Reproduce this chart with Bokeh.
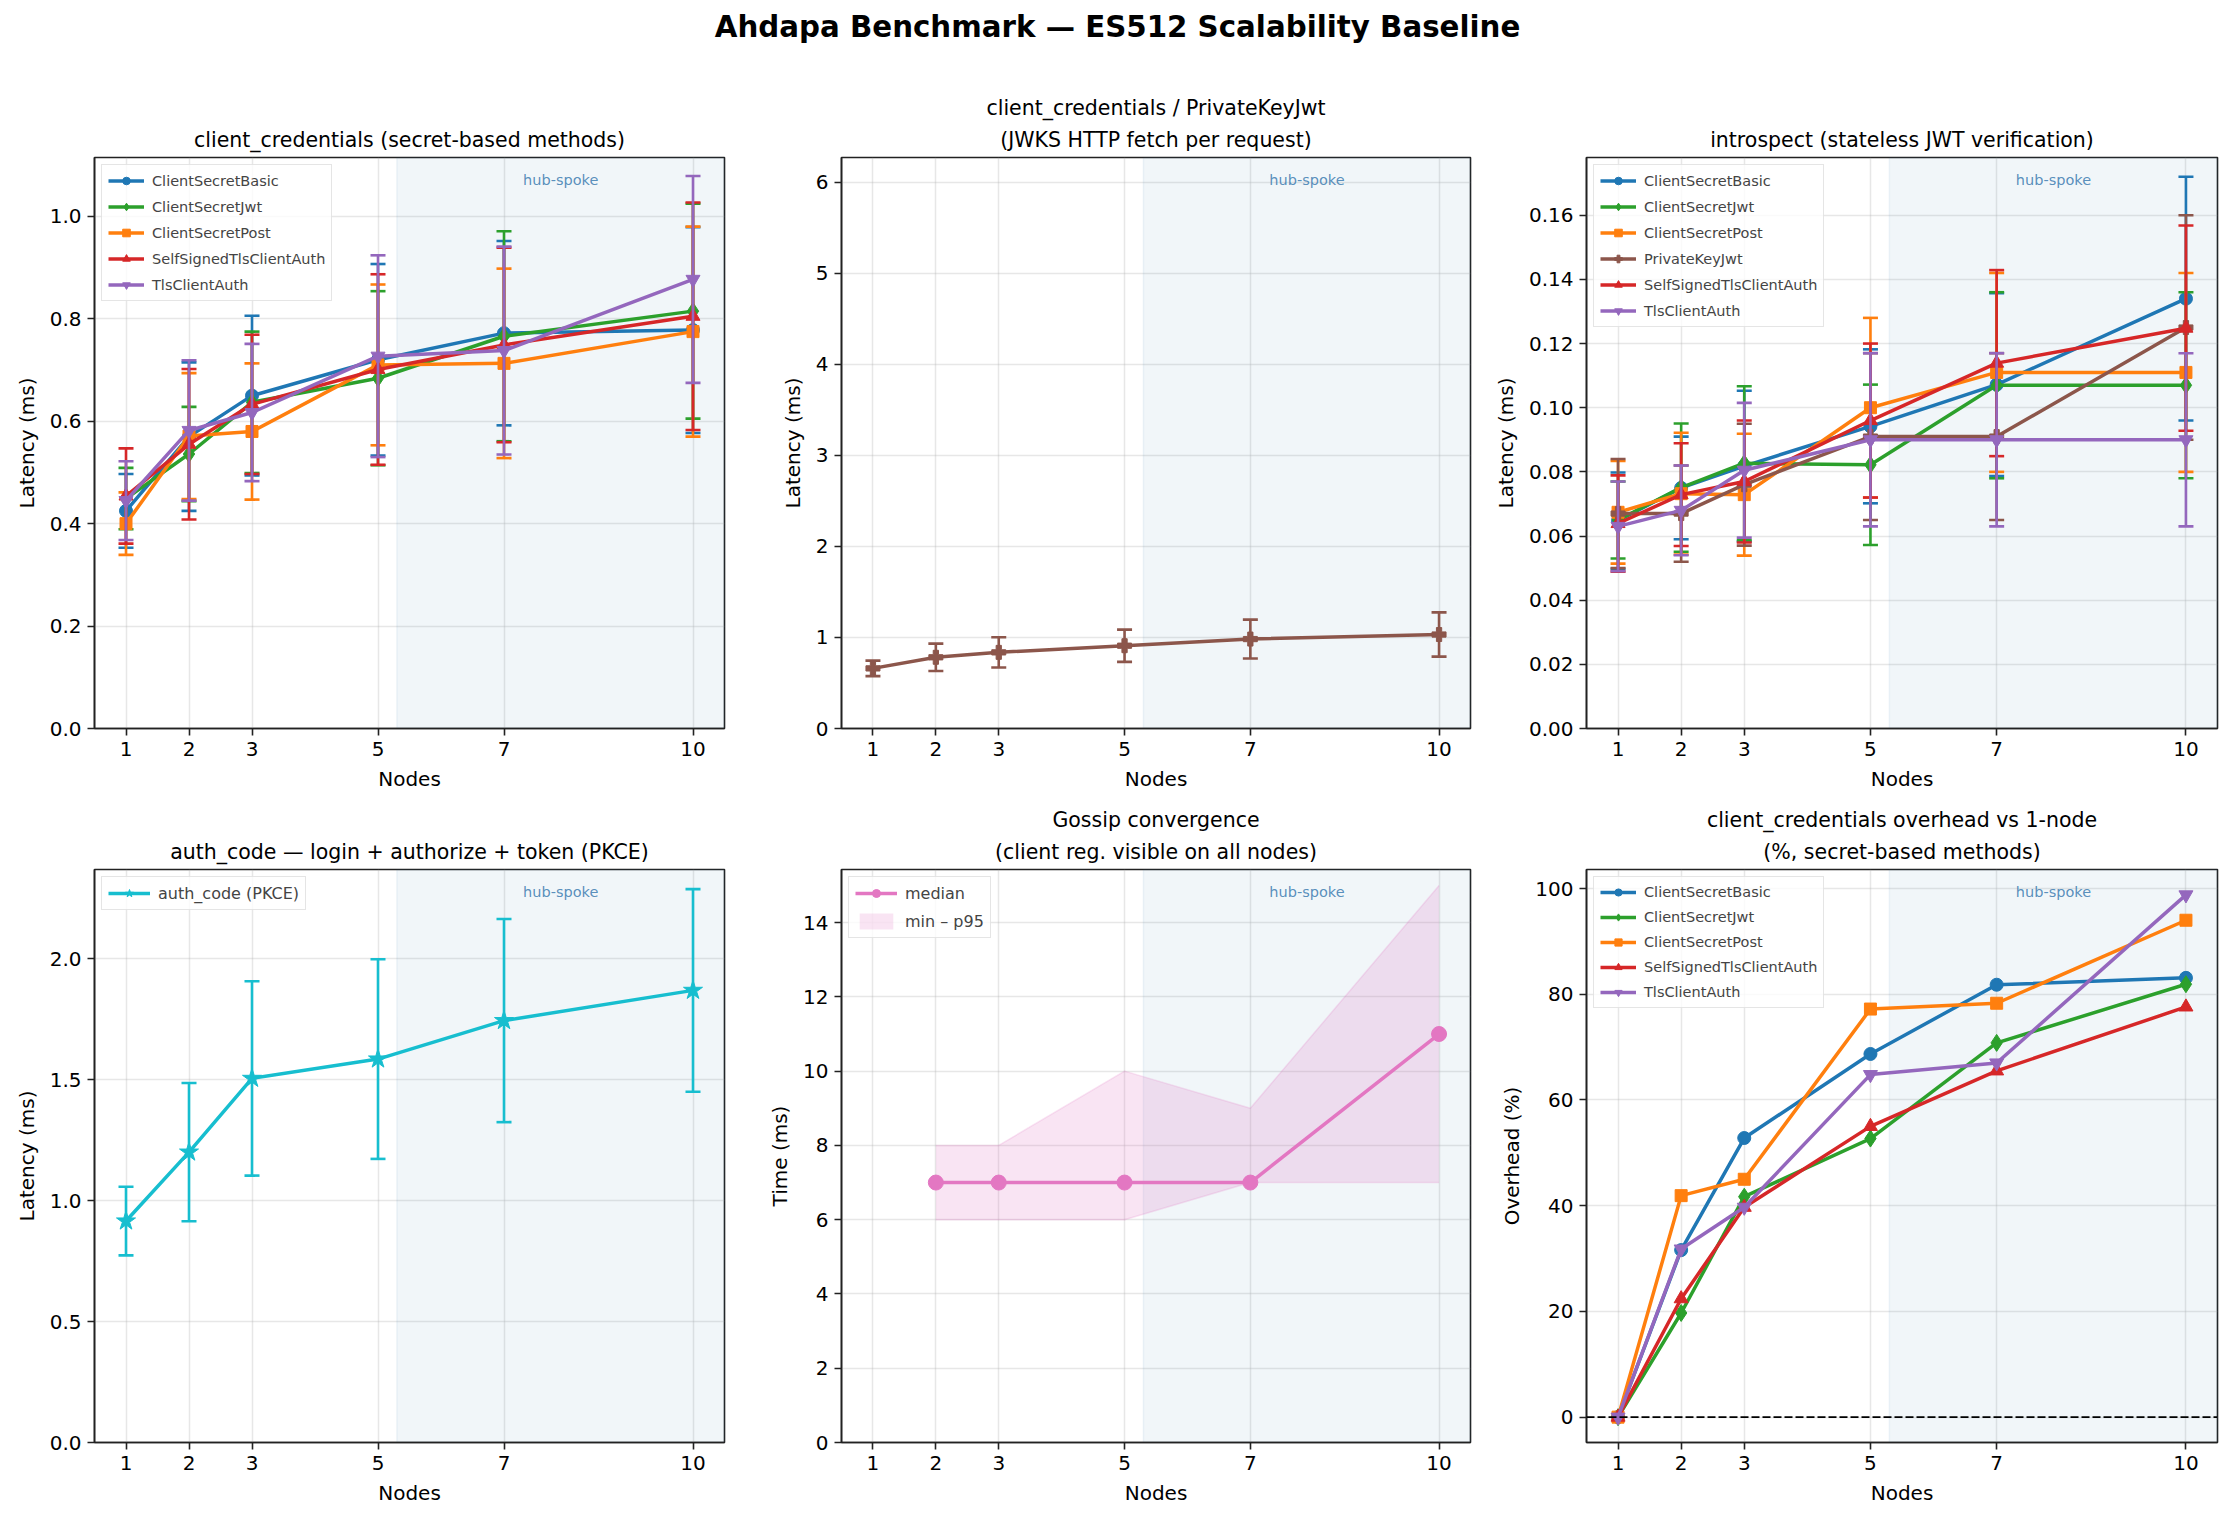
from bokeh.plotting import figure
from bokeh.models import (Range1d, FixedTicker, PrintfTickFormatter, ColumnDataSource,
                          BoxAnnotation, Label, Legend, LegendItem, Span, Title)
from bokeh.layouts import column, row
from bokeh.embed import file_html
from bokeh.resources import INLINE

# ---------------- data ----------------
NODES = [1, 2, 3, 5, 7, 10]
SECRET_METHODS = ["ClientSecretBasic", "ClientSecretJwt", "ClientSecretPost",
                  "SelfSignedTlsClientAuth", "TlsClientAuth"]
INTROSPECT_METHODS = ["ClientSecretBasic", "ClientSecretJwt", "ClientSecretPost",
                      "PrivateKeyJwt", "SelfSignedTlsClientAuth", "TlsClientAuth"]

# client_credentials latency (ms): mean and std
cc_basic = [0.425, 0.570, 0.650, 0.720, 0.772, 0.778]
cc_basic_err = [0.072, 0.145, 0.156, 0.187, 0.180, 0.201]
cc_jwt = [0.449, 0.536, 0.637, 0.684, 0.766, 0.815]
cc_jwt_err = [0.060, 0.092, 0.138, 0.170, 0.205, 0.210]
cc_post = [0.400, 0.571, 0.580, 0.710, 0.713, 0.775]
cc_post_err = [0.061, 0.123, 0.133, 0.157, 0.185, 0.205]
cc_selfsigned = [0.454, 0.555, 0.633, 0.701, 0.749, 0.805]
cc_selfsigned_err = [0.093, 0.147, 0.136, 0.186, 0.190, 0.222]
cc_tls = [0.445, 0.582, 0.617, 0.727, 0.738, 0.877]
cc_tls_err = [0.077, 0.137, 0.134, 0.197, 0.203, 0.202]

# client_credentials / PrivateKeyJwt
pkj = [0.660, 0.782, 0.836, 0.909, 0.982, 1.032]
pkj_err = [0.085, 0.150, 0.166, 0.177, 0.214, 0.243]

# introspect latency (ms)
in_basic = [0.0648, 0.0750, 0.0818, 0.0942, 0.1072, 0.1340]
in_basic_err = [0.0150, 0.0160, 0.0235, 0.0240, 0.0285, 0.0380]
in_jwt = [0.0650, 0.0751, 0.0827, 0.0822, 0.1070, 0.1070]
in_jwt_err = [0.0120, 0.0200, 0.0240, 0.0250, 0.0290, 0.0290]
in_post = [0.0674, 0.0732, 0.0729, 0.1000, 0.1110, 0.1110]
in_post_err = [0.0160, 0.0190, 0.0190, 0.0280, 0.0310, 0.0310]
in_pkj = [0.0670, 0.0670, 0.0760, 0.0910, 0.0910, 0.1250]
in_pkj_err = [0.0170, 0.0150, 0.0190, 0.0260, 0.0260, 0.0350]
in_selfsigned = [0.0639, 0.0729, 0.0770, 0.0960, 0.1139, 0.1248]
in_selfsigned_err = [0.0150, 0.0160, 0.0190, 0.0240, 0.0290, 0.0320]
in_tls = [0.0630, 0.0680, 0.0805, 0.0900, 0.0900, 0.0900]
in_tls_err = [0.0140, 0.0140, 0.0210, 0.0270, 0.0270, 0.0270]

# auth_code (PKCE)
ac = [0.916, 1.201, 1.506, 1.586, 1.745, 1.870]
ac_err = [0.142, 0.286, 0.402, 0.413, 0.420, 0.419]

# gossip convergence (ms)
GOSSIP_NODES = [2, 3, 5, 7, 10]
gossip_median = [7, 7, 7, 7, 11]
gossip_min = [6, 6, 6, 7, 7]
gossip_p95 = [8, 8, 10, 9, 15]

# overhead vs 1-node (%)
ov_basic = [0.0, 31.6, 52.8, 68.7, 81.8, 83.1]
ov_jwt = [0.0, 19.7, 41.7, 52.7, 70.8, 81.9]
ov_post = [0.0, 41.9, 45.0, 77.2, 78.3, 94.0]
ov_selfsigned = [0.0, 22.4, 39.7, 55.0, 65.5, 77.6]
ov_tls = [0.0, 31.8, 39.7, 64.8, 67.0, 98.8]

# axis ticks
Y1_TICKS = [0.0, 0.2, 0.4, 0.6, 0.8, 1.0]
Y2_TICKS = [0, 1, 2, 3, 4, 5, 6]
Y3_TICKS = [0.0, 0.02, 0.04, 0.06, 0.08, 0.10, 0.12, 0.14, 0.16]
Y4_TICKS = [0.0, 0.5, 1.0, 1.5, 2.0]
Y5_TICKS = [0, 2, 4, 6, 8, 10, 12, 14]
Y6_TICKS = [0, 20, 40, 60, 80, 100]

HUB_SPOKE_START = 5.3
X_LO, X_HI = 0.5, 10.5

# ---------------- styles ----------------
FONT = "DejaVu Sans"
STYLE = {
    "ClientSecretBasic": ("#1f77b4", "circle", 13),
    "ClientSecretJwt": ("#2ca02c", "diamond", 17),
    "ClientSecretPost": ("#ff7f0e", "square", 12),
    "PrivateKeyJwt": ("#8c564b", "plus", 14),
    "SelfSignedTlsClientAuth": ("#d62728", "triangle", 14),
    "TlsClientAuth": ("#9467bd", "inverted_triangle", 14),
}


def style_title(t, standoff):
    t.text_font = FONT
    t.text_font_size = "20.5px"
    t.text_font_style = "normal"
    t.text_color = "black"
    t.align = "center"
    t.standoff = standoff


def make_fig(title_lines, yr, yticks, yfmt, ylabel, w, bl, br, h, bt, bb):
    p = figure(width=w, height=h, x_range=Range1d(X_LO, X_HI), y_range=Range1d(*yr),
               toolbar_location=None, output_backend="svg",
               min_border_left=bl, min_border_right=br,
               min_border_top=bt, min_border_bottom=bb)
    # figure's own title is the outermost; extra lines are placed nearer the frame
    p.title.text = title_lines[0]
    style_title(p.title, 12 if len(title_lines) == 1 else 0)
    for line in title_lines[1:]:
        t = Title(text=line)
        style_title(t, 12)
        p.add_layout(t, "above")
    p.outline_line_color = "#222222"
    p.outline_line_width = 1.6
    p.outline_line_alpha = 1.0
    p.background_fill_color = "white"
    p.border_fill_color = "white"
    p.xaxis.ticker = FixedTicker(ticks=NODES)
    p.yaxis.ticker = FixedTicker(ticks=yticks)
    p.yaxis.formatter = PrintfTickFormatter(format=yfmt)
    p.xaxis.axis_label = "Nodes"
    p.yaxis.axis_label = ylabel
    for ax in (p.xaxis, p.yaxis):
        ax.axis_line_color = "#222222"
        ax.axis_line_width = 1.6
        ax.major_tick_line_color = "#222222"
        ax.major_tick_line_width = 1.6
        ax.major_tick_out = 7
        ax.major_tick_in = 0
        ax.minor_tick_line_color = None
        ax.major_label_text_font = FONT
        ax.major_label_text_font_size = "20px"
        ax.major_label_text_color = "black"
        ax.major_label_standoff = 6
        ax.axis_label_text_font = FONT
        ax.axis_label_text_font_size = "20px"
        ax.axis_label_text_font_style = "normal"
        ax.axis_label_text_color = "black"
        ax.axis_label_standoff = 8
    p.grid.grid_line_color = "#b0b0b0"
    p.grid.grid_line_alpha = 0.3
    p.grid.grid_line_width = 1.5
    box = BoxAnnotation(left=HUB_SPOKE_START, fill_color="#4682b4", fill_alpha=0.075,
                        line_color="#4682b4", line_alpha=0.08, line_width=1.5,
                        level="underlay")
    p.add_layout(box)
    ylo, yhi = yr
    p.add_layout(Label(x=(HUB_SPOKE_START + X_HI) / 2, y=yhi - 0.025 * (yhi - ylo),
                       text="hub-spoke", text_align="center", text_baseline="top",
                       text_font=FONT, text_font_size="14.5px",
                       text_color="#4682b4", text_alpha=0.9))
    return p


def err_series(p, y, err, color, marker, size, lw=3.5, elw=2.6, cap=15):
    lo = [a - e for a, e in zip(y, err)]
    hi = [a + e for a, e in zip(y, err)]
    src = ColumnDataSource(dict(x=NODES, y=y, lo=lo, hi=hi))
    p.segment(x0="x", y0="lo", x1="x", y1="hi", source=src, line_color=color, line_width=elw)
    p.scatter(x="x", y="lo", source=src, marker="dash", size=cap, line_color=color, line_width=elw)
    p.scatter(x="x", y="hi", source=src, marker="dash", size=cap, line_color=color, line_width=elw)
    ln = p.line(x="x", y="y", source=src, line_color=color, line_width=lw)
    sc = p.scatter(x="x", y="y", source=src, marker=marker, size=size,
                   fill_color=color, line_color=color)
    return [ln, sc]


def add_legend(p, items, fs="14.5px", gw=36, lh=19, sp=7):
    leg = Legend(items=[LegendItem(label=l, renderers=r) for l, r in items],
                 location="top_left")
    leg.label_text_font = FONT
    leg.label_text_font_size = fs
    leg.glyph_width = gw
    leg.glyph_height = lh
    leg.label_height = lh
    leg.spacing = sp
    leg.padding = 6
    leg.margin = 7
    leg.label_standoff = 8
    leg.border_line_color = "#cccccc"
    leg.border_line_width = 1.5
    leg.background_fill_alpha = 0.8
    p.add_layout(leg)


# layout geometry (px)
W = [745, 745, 744]
BL = [94, 96, 96]
BR = [21, 20, 17]
H1, BT1, BB1 = 738, 95, 72
H2, BT2, BB2 = 720, 69, 78

# ---- panel 1 ----
p1 = make_fig(["client_credentials (secret-based methods)"], (0, 1.115), Y1_TICKS, "%.1f",
              "Latency (ms)", W[0], BL[0], BR[0], H1, BT1, BB1)
cc_data = [(cc_basic, cc_basic_err), (cc_jwt, cc_jwt_err), (cc_post, cc_post_err),
           (cc_selfsigned, cc_selfsigned_err), (cc_tls, cc_tls_err)]
items = []
for name, (y, e) in zip(SECRET_METHODS, cc_data):
    c, m, s = STYLE[name]
    items.append((name, err_series(p1, y, e, c, m, s)))
add_legend(p1, items)

# ---- panel 2 ----
p2 = make_fig(["client_credentials / PrivateKeyJwt", "(JWKS HTTP fetch per request)"], (0, 6.27),
              Y2_TICKS, "%d", "Latency (ms)", W[1], BL[1], BR[1], H1, BT1, BB1)
c, m, s = STYLE["PrivateKeyJwt"]
err_series(p2, pkj, pkj_err, c, m, s)

# ---- panel 3 ----
p3 = make_fig(["introspect (stateless JWT verification)"], (0, 0.178), Y3_TICKS, "%.2f",
              "Latency (ms)", W[2], BL[2], BR[2], H1, BT1, BB1)
in_data = [(in_basic, in_basic_err), (in_jwt, in_jwt_err), (in_post, in_post_err),
           (in_pkj, in_pkj_err), (in_selfsigned, in_selfsigned_err), (in_tls, in_tls_err)]
items = []
for name, (y, e) in zip(INTROSPECT_METHODS, in_data):
    c, m, s = STYLE[name]
    items.append((name, err_series(p3, y, e, c, m, s)))
add_legend(p3, items)

# ---- panel 4 ----
p4 = make_fig(["auth_code \u2014 login + authorize + token (PKCE)"], (0, 2.37), Y4_TICKS, "%.1f",
              "Latency (ms)", W[0], BL[0], BR[0], H2, BT2, BB2)
r = err_series(p4, ac, ac_err, "#17becf", "star", 20)
add_legend(p4, [("auth_code (PKCE)", r)], fs="16px", gw=42, lh=20, sp=6)

# ---- panel 5 ----
p5 = make_fig(["Gossip convergence", "(client reg. visible on all nodes)"], (0, 15.43), Y5_TICKS, "%d",
              "Time (ms)", W[1], BL[1], BR[1], H2, BT2, BB2)
gsrc = ColumnDataSource(dict(x=GOSSIP_NODES, med=gossip_median, lo=gossip_min, hi=gossip_p95))
band = p5.varea(x="x", y1="lo", y2="hi", source=gsrc, fill_color="#e377c2", fill_alpha=0.2)
p5.line(x="x", y="lo", source=gsrc, line_color="#e377c2", line_alpha=0.2, line_width=1.5)
p5.line(x="x", y="hi", source=gsrc, line_color="#e377c2", line_alpha=0.2, line_width=1.5)
gl = p5.line(x="x", y="med", source=gsrc, line_color="#e377c2", line_width=3.5)
gs = p5.scatter(x="x", y="med", source=gsrc, marker="circle", size=15,
                fill_color="#e377c2", line_color="#e377c2")
add_legend(p5, [("median", [gl, gs]), ("min \u2013 p95", [band])], fs="16px", gw=42, lh=20, sp=8)

# ---- panel 6 ----
p6 = make_fig(["client_credentials overhead vs 1-node", "(%, secret-based methods)"], (-4.8, 103.6),
              Y6_TICKS, "%d", "Overhead (%)", W[2], BL[2], BR[2], H2, BT2, BB2)
p6.add_layout(Span(location=0, dimension="width", line_color="black", line_width=1.6,
                   line_dash="8 3"))
ov_data = [ov_basic, ov_jwt, ov_post, ov_selfsigned, ov_tls]
items = []
for name, y in zip(SECRET_METHODS, ov_data):
    c, m, s = STYLE[name]
    src = ColumnDataSource(dict(x=NODES, y=y))
    ln = p6.line(x="x", y="y", source=src, line_color=c, line_width=3.5)
    sc = p6.scatter(x="x", y="y", source=src, marker=m, size=s, fill_color=c, line_color=c)
    items.append((name, [ln, sc]))
add_legend(p6, items, lh=18, sp=7)

# ---- super title ----
sup = figure(width=2234, height=62, x_range=Range1d(0, 1), y_range=Range1d(0, 1),
             toolbar_location=None, output_backend="svg", x_axis_type=None, y_axis_type=None,
             min_border=0, outline_line_color=None)
sup.grid.visible = False
sup.add_layout(Label(x=0.5, y=0.58, text="Ahdapa Benchmark \u2014 ES512 Scalability Baseline",
                     text_align="center", text_baseline="middle", text_font=FONT,
                     text_font_size="29.3px", text_font_style="bold", text_color="black"))

layout = column(sup, row(p1, p2, p3), row(p4, p5, p6))
open("out.html", "w").write(file_html(layout, INLINE))
